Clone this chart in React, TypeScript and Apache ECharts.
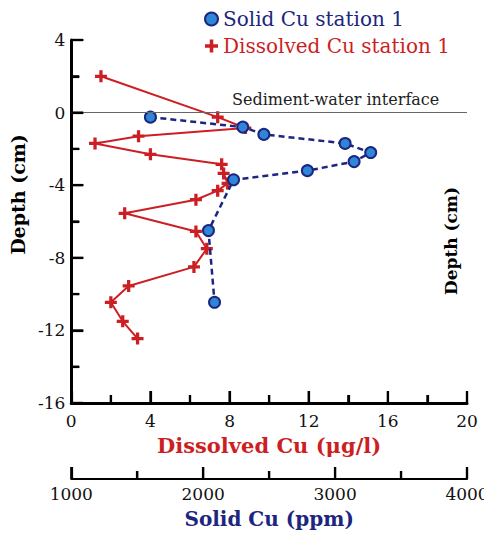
import React, { useEffect, useRef } from "react";
import * as echarts from "echarts";

// Dissolved Cu (µg/l) vs depth (cm)
const dissolvedCu = [1.5, 7.4, 8.8, 3.4, 1.2, 4.0, 7.6, 7.7, 7.9, 7.4, 6.3, 2.7, 6.3, 6.85, 6.2, 2.9, 2.0, 2.6, 3.35];
const dissolvedDepth = [2.0, -0.25, -0.85, -1.3, -1.7, -2.3, -2.85, -3.35, -3.9, -4.3, -4.8, -5.55, -6.55, -7.5, -8.5, -9.55, -10.45, -11.5, -12.45];

// Solid Cu (ppm) vs depth (cm)
const solidCu = [1600, 2300, 2460, 3076, 3270, 3144, 2790, 2230, 2040, 2086];
const solidDepth = [-0.25, -0.8, -1.2, -1.7, -2.2, -2.7, -3.2, -3.7, -6.5, -10.45];

const depthTicks = [-16, 4, 4]; // min, max, interval
const dissolvedTicks = [0, 20, 4];
const solidTicks = [1000, 4000, 1000];

const RED = "#cc1f24";
const NAVY = "#1c2580";
const FONT = "DejaVu Serif";
const PLUS = "path://M4,0h3v4h4v3h-4v4h-3v-4h-4v-3h4z";
const SOLID_OFFSET = 76;

function tickValues(t: number[]) {
  const out: { v: number; major: boolean }[] = [];
  const half = t[2] / 2;
  for (let k = 0; t[0] + k * half <= t[1] + 1e-9; k++) out.push({ v: t[0] + k * half, major: k % 2 === 0 });
  return out;
}

export default function App() {
  const ref = useRef<HTMLDivElement>(null);
  useEffect(() => {
    const chart = echarts.init(ref.current!, null, { renderer: "svg" });
    const labelStyle = { color: "#111", fontFamily: FONT, fontSize: 17 };
    const yTicks = tickValues(depthTicks);
    const xTicks = tickValues(dissolvedTicks);
    const sTicks = tickValues(solidTicks);
    const tickLine = { color: "#000", width: 2.2, cap: "butt" };
    chart.setOption({
      animation: false,
      backgroundColor: "#fff",
      textStyle: { fontFamily: FONT },
      grid: { left: 71, right: 25, top: 40, bottom: 135, containLabel: false },
      legend: {
        orient: "vertical",
        left: 199,
        top: 4,
        itemWidth: 13,
        itemHeight: 13,
        itemGap: 7,
        textStyle: { fontFamily: FONT, fontSize: 20 },
        data: [
          { name: "Solid Cu station 1", icon: "circle", textStyle: { color: NAVY } },
          { name: "Dissolved Cu station 1", icon: PLUS, textStyle: { color: RED } },
        ],
      },
      xAxis: [
        {
          type: "value",
          position: "bottom",
          min: dissolvedTicks[0],
          max: dissolvedTicks[1],
          interval: dissolvedTicks[2],
          axisLine: { show: true, onZero: false, lineStyle: { color: "#000", width: 3 } },
          axisTick: { show: true, inside: true, length: 12, lineStyle: tickLine },
          minorTick: { show: true, splitNumber: 2, length: 8, lineStyle: tickLine },
          splitLine: { show: false },
          axisLabel: { ...labelStyle, margin: 9 },
          name: "Dissolved Cu (\u03bcg/l)",
          nameLocation: "middle",
          nameGap: 32,
          nameTextStyle: { color: RED, fontFamily: FONT, fontSize: 21, fontWeight: "bold" },
        },
        {
          type: "value",
          position: "bottom",
          offset: SOLID_OFFSET,
          min: solidTicks[0],
          max: solidTicks[1],
          interval: solidTicks[2],
          axisLine: { show: true, onZero: false, lineStyle: { color: "#000", width: 2 } },
          axisTick: { show: true, inside: true, length: 12, lineStyle: tickLine },
          minorTick: { show: true, splitNumber: 2, length: 8, lineStyle: tickLine },
          splitLine: { show: false },
          axisLabel: { ...labelStyle, margin: 6, formatter: (v: number) => String(v) },
          name: "Solid Cu (ppm)",
          nameLocation: "middle",
          nameGap: 30,
          nameTextStyle: { color: NAVY, fontFamily: FONT, fontSize: 20, fontWeight: "bold" },
        },
      ],
      yAxis: {
        type: "value",
        min: depthTicks[0],
        max: depthTicks[1],
        interval: depthTicks[2],
        axisLine: { show: true, onZero: false, lineStyle: { color: "#000", width: 3 } },
        axisTick: { show: true, inside: true, length: 12, lineStyle: tickLine },
        minorTick: { show: true, splitNumber: 2, length: 8, lineStyle: tickLine },
        splitLine: { show: false },
        axisLabel: { ...labelStyle, margin: 6 },
        name: "Depth (cm)",
        nameLocation: "middle",
        nameRotate: 90,
        nameGap: 39,
        nameTextStyle: { color: "#000", fontFamily: FONT, fontSize: 19, fontWeight: "bold", padding: [0, 0, 0, 54] },
      },
      graphic: [
        {
          type: "text",
          left: 232,
          top: 91,
          style: { text: "Sediment-water interface", font: `16px "${FONT}"`, fill: "#222" },
        },
        {
          type: "text",
          x: 451,
          y: 241,
          rotation: Math.PI / 2,
          style: {
            text: "Depth (cm)",
            font: `bold 17px "${FONT}"`,
            fill: "#000",
            align: "center",
            verticalAlign: "middle",
          },
        },
      ],
      series: [
        {
          name: "Interface",
          type: "line",
          xAxisIndex: 0,
          data: [],
          markLine: {
            silent: true,
            symbol: "none",
            label: { show: false },
            lineStyle: { color: "#666", width: 1, type: "solid" },
            data: [{ yAxis: 0 }],
          },
        },
        {
          name: "yTicks",
          type: "custom",
          xAxisIndex: 0,
          silent: true,
          clip: false,
          z: 10,
          data: yTicks.map((t) => [dissolvedTicks[0], t.v, t.major ? 12 : 8]),
          renderItem: (_p: any, api: any) => {
            const p = api.coord([api.value(0), api.value(1)]);
            return {
              type: "line",
              shape: { x1: p[0], y1: p[1], x2: p[0] + api.value(2), y2: p[1] },
              style: { stroke: "#000", lineWidth: 2.2 },
            };
          },
        },
        {
          name: "xTicks",
          type: "custom",
          xAxisIndex: 0,
          silent: true,
          clip: false,
          z: 10,
          data: xTicks.map((t) => [t.v, depthTicks[0], t.major ? 12 : 8]),
          renderItem: (_p: any, api: any) => {
            const p = api.coord([api.value(0), api.value(1)]);
            return {
              type: "line",
              shape: { x1: p[0], y1: p[1], x2: p[0], y2: p[1] - api.value(2) },
              style: { stroke: "#000", lineWidth: 2.2 },
            };
          },
        },
        {
          name: "solidTicks",
          type: "custom",
          xAxisIndex: 1,
          silent: true,
          clip: false,
          z: 10,
          data: sTicks.map((t) => [t.v, depthTicks[0], t.major ? 12 : 8]),
          renderItem: (_p: any, api: any) => {
            const p = api.coord([api.value(0), api.value(1)]);
            const y = p[1] + SOLID_OFFSET;
            return {
              type: "line",
              shape: { x1: p[0], y1: y, x2: p[0], y2: y - api.value(2) },
              style: { stroke: "#000", lineWidth: 2.2 },
            };
          },
        },
        {
          name: "Dissolved Cu station 1",
          type: "line",
          xAxisIndex: 0,
          data: dissolvedCu.map((v, i) => [v, dissolvedDepth[i]]),
          symbol: PLUS,
          symbolSize: 12,
          itemStyle: { color: RED },
          lineStyle: { color: RED, width: 2 },
          z: 3,
        },
        {
          name: "Solid Cu station 1",
          type: "line",
          xAxisIndex: 1,
          data: solidCu.map((v, i) => [v, solidDepth[i]]),
          symbol: "circle",
          symbolSize: 11,
          itemStyle: { color: "#2f86d6", borderColor: NAVY, borderWidth: 2 },
          lineStyle: { color: NAVY, width: 2.5, type: [6, 4] },
          z: 4,
        },
      ],
    });
    return () => chart.dispose();
  }, []);
  return <div ref={ref} style={{ width: 492, height: 538, margin: -8 }} />;
}
